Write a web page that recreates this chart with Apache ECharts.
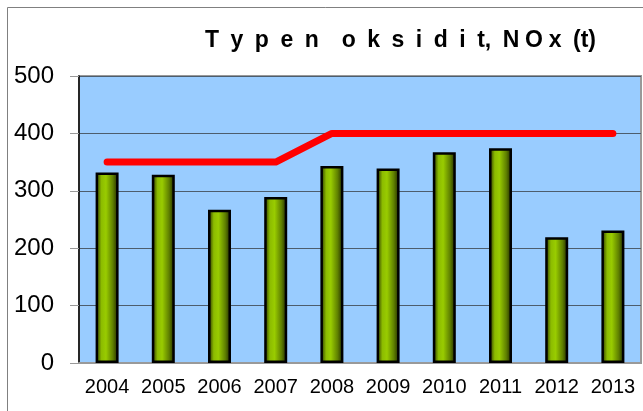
<!DOCTYPE html>
<html>
<head>
<meta charset="utf-8">
<script src="https://cdn.jsdelivr.net/npm/echarts@6/dist/echarts.min.js"></script>
<style>
html,body{margin:0;padding:0;background:#fff;}
#chart{width:643px;height:411px;}
</style>
</head>
<body>
<div id="chart"></div>
<script>
// data
var years = ['2004','2005','2006','2007','2008','2009','2010','2011','2012','2013'];
var noxValues = [332, 328, 267, 289, 343, 339, 367, 374, 219, 231];
var limitValues = [350, 350, 350, 350, 400, 400, 400, 400, 400, 400];

var myChart = echarts.init(document.getElementById('chart'));

// wide letter spacing like the original title (en spaces between letters)
var titleText = 'T\u2002y\u2002p\u2002e\u2002n\u2002\u2002o\u2002k\u2002s\u2002i\u2002d\u2002i\u2002t,\u2002N\u2005O\u2005x\u2002(t)';

var barGradient = new echarts.graphic.LinearGradient(0, 0, 1, 0, [
    {offset: 0, color: '#1a1f00'},
    {offset: 0.25, color: '#8cbc00'},
    {offset: 0.45, color: '#99cc00'},
    {offset: 0.75, color: '#5f8000'},
    {offset: 1, color: '#1a1f00'}
]);

var option = {
    animation: false,
    backgroundColor: '#fff',
    title: {
        text: titleText,
        left: 200,
        top: 24,
        textStyle: {
            fontFamily: 'Liberation Sans, Arial',
            fontWeight: 'bold',
            fontSize: 23,
            color: '#000'
        }
    },
    graphic: [{
        type: 'rect',
        shape: {x: 7.5, y: 7.5, width: 700, height: 500},
        style: {fill: null, stroke: '#808080', lineWidth: 1},
        z: -1
    }],
    grid: {
        left: 79,
        right: 2,
        top: 76,
        bottom: 48,
        show: true,
        backgroundColor: '#99ccff',
        borderColor: '#999',
        borderWidth: 2
    },
    xAxis: {
        type: 'category',
        data: years,
        axisLine: {lineStyle: {color: '#999', width: 2}},
        axisTick: {length: 6, lineStyle: {color: '#999'}},
        axisLabel: {
            interval: 0,
            color: '#000',
            fontFamily: 'Liberation Sans, Arial',
            fontSize: 20,
            margin: 14
        }
    },
    yAxis: {
        type: 'value',
        min: 0,
        max: 500,
        interval: 100,
        axisLine: {show: true, lineStyle: {color: '#000', width: 1.5}},
        axisTick: {show: true, length: 9, lineStyle: {color: '#999'}},
        axisLabel: {
            color: '#000',
            fontFamily: 'Liberation Sans, Arial',
            fontSize: 24,
            margin: 25
        },
        splitLine: {lineStyle: {color: '#4d5d6d', width: 1}}
    },
    series: [
        {
            name: 'NOx',
            type: 'bar',
            data: noxValues,
            barWidth: 23,
            itemStyle: {
                color: barGradient,
                borderColor: '#000',
                borderWidth: 2.5
            },
            z: 2
        },
        {
            name: 'raja',
            type: 'line',
            data: limitValues,
            symbol: 'none',
            lineStyle: {color: '#ff0000', width: 7, cap: 'round', join: 'round'},
            z: 5
        }
    ]
};
myChart.setOption(option);
</script>
</body>
</html>
